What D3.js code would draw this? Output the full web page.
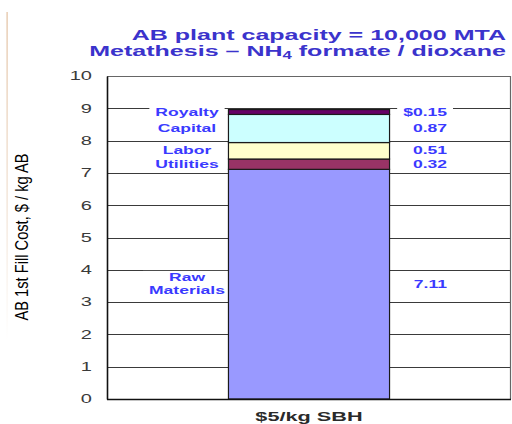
<!DOCTYPE html>
<html>
<head>
<meta charset="utf-8">
<script src="https://cdn.jsdelivr.net/npm/d3@7"></script>
<style>
  html, body { margin: 0; padding: 0; background: #fff; }
  svg { display: block; }
  text { font-family: "Liberation Sans", Arial, sans-serif; }
</style>
</head>
<body>
<svg id="chart" width="512" height="424"></svg>
<script>
// Cost build-up for one feedstock price case
const categories = ["$5/kg SBH"];
const components = ["Raw Materials", "Utilities", "Labor", "Capital", "Royalty"];
const costs = [7.11, 0.32, 0.51, 0.87, 0.15];
const valueLabels = ["7.11", "0.32", "0.51", "0.87", "$0.15"];
const componentLabels = [["Raw", "Materials"], ["Utilities"], ["Labor"], ["Capital"], ["Royalty"]];
const yTicks = [0, 1, 2, 3, 4, 5, 6, 7, 8, 9, 10];
const palette = ["#9999ff", "#993366", "#ffffcc", "#ccffff", "#660066"];

const SX = 1.67; // wide lettering used throughout the slide

const svg = d3.select("#chart");
const m = { left: 107, right: 511, top: 76, bottom: 399 };

const y = d3.scaleLinear().domain([0, 10]).range([m.bottom, m.top]);
const x = d3.scaleBand().domain(categories).range([m.left, m.right])
  .paddingInner(0.5).paddingOuter(0.377);

// faint slide edge line
const defs = svg.append("defs");
const grad = defs.append("linearGradient").attr("id", "edge")
  .attr("x1", 0).attr("y1", 0).attr("x2", 0).attr("y2", 1);
grad.append("stop").attr("offset", "0%").attr("stop-color", "#e2c0a0");
grad.append("stop").attr("offset", "60%").attr("stop-color", "#f1e2d4");
grad.append("stop").attr("offset", "100%").attr("stop-color", "#ffffff");
svg.append("rect").attr("x", 6.5).attr("y", 12).attr("width", 1.2).attr("height", 330)
  .attr("fill", "url(#edge)");

// title
const title = svg.append("text")
  .attr("transform", `translate(506,39.5) scale(${SX},1)`)
  .attr("text-anchor", "end").attr("font-weight", "bold").attr("font-size", 15)
  .attr("fill", "#3b33cc");
title.append("tspan").attr("x", 0).attr("y", 0).text("AB plant capacity = 10,000 MTA");
const t2 = svg.append("text")
  .attr("transform", `translate(506,55.5) scale(${SX},1)`)
  .attr("text-anchor", "end").attr("font-weight", "bold").attr("font-size", 15)
  .attr("fill", "#3b33cc");
t2.append("tspan").text("Metathesis \u2013 NH");
t2.append("tspan").attr("font-size", 10).attr("dy", 3).text("4");
t2.append("tspan").attr("dy", -3).text(" formate / dioxane");

// grid lines
svg.append("g").selectAll("line").data(yTicks.filter(d => d > 0)).join("line")
  .attr("x1", m.left).attr("x2", m.right)
  .attr("y1", d => Math.round(y(d)) + 0.5).attr("y2", d => Math.round(y(d)) + 0.5)
  .attr("stroke", d => d === 10 ? "#666" : "#3a3a3a").attr("stroke-width", 1.2);
// right border
svg.append("line").attr("x1", m.right - 0.5).attr("x2", m.right - 0.5)
  .attr("y1", y(10)).attr("y2", y(0)).attr("stroke", "#666").attr("stroke-width", 1.2);

// stack layout
const row = {};
components.forEach((c, i) => row[c] = costs[i]);
const series = d3.stack().keys(components)([row]);

// segment labels (left) and values (right), with white backing over the grid
function label(xPos, yMid, lines, anchor) {
  const g = svg.append("g").attr("transform", `translate(${xPos},${yMid})`);
  const bg = g.append("rect").attr("fill", "#fff");
  const t = g.append("text")
    .attr("transform", `scale(${SX},1)`)
    .attr("text-anchor", anchor).attr("font-weight", "bold").attr("font-size", 10.5)
    .attr("fill", "#3a3aff");
  const n = lines.length;
  lines.forEach((s, i) => {
    t.append("tspan").attr("x", 0)
      .attr("y", (i - (n - 1) / 2) * 13)
      .attr("dy", "0.35em").text(s);
  });
  const b = t.node().getBBox();
  bg.attr("x", b.x * SX - 6).attr("y", b.y - 1)
    .attr("width", b.width * SX + 12).attr("height", b.height + 2);
}

series.forEach((s, i) => {
  const mid = y((s[0][0] + s[0][1]) / 2);
  label(187, mid, componentLabels[i], "middle");
  label(447, mid, [valueLabels[i]], "end");
});

// stacked bar
svg.append("g").selectAll("rect").data(series).join("rect")
  .attr("x", x(categories[0]))
  .attr("width", x.bandwidth())
  .attr("y", d => y(d[0][1]))
  .attr("height", d => y(d[0][0]) - y(d[0][1]))
  .attr("fill", (d, i) => palette[i])
  .attr("stroke", "#1a1a1a").attr("stroke-width", 1.2);

// axes
const yAxis = svg.append("g").attr("transform", `translate(${m.left},0)`)
  .call(d3.axisLeft(y).tickValues(yTicks).tickSize(0).tickPadding(15));
yAxis.select(".domain").attr("stroke", "#111").attr("stroke-width", 1.6);
yAxis.selectAll("text")
  .attr("x", -15 / SX)
  .attr("transform", `scale(${SX},1)`)
  .attr("font-size", 12).attr("fill", "#3a3a3a")
  .attr("font-family", "\"Liberation Sans\", Arial, sans-serif");

const xAxis = svg.append("g").attr("transform", `translate(0,${m.bottom})`)
  .call(d3.axisBottom(x).tickSize(0).tickPadding(13));
xAxis.select(".domain").attr("stroke", "#111").attr("stroke-width", 1.6)
  .attr("d", `M${m.left},0.5H${m.right}`);
xAxis.selectAll("text")
  .attr("transform", `scale(${SX},1)`)
  .attr("font-size", 13).attr("font-weight", "bold").attr("fill", "#2a2a2a")
  .attr("font-family", "\"Liberation Sans\", Arial, sans-serif");
xAxis.selectAll(".tick").each(function () {
  const tx = +this.getAttribute("transform").match(/translate\(([^,]+)/)[1];
  d3.select(this).attr("transform", `translate(${tx},0)`);
});

// y axis title
svg.append("text")
  .attr("transform", `translate(28,237) rotate(-90)`)
  .attr("text-anchor", "middle").attr("font-size", 17.5).attr("fill", "#000")
  .attr("textLength", 167).attr("lengthAdjust", "spacingAndGlyphs")
  .text("AB 1st Fill Cost, $ / kg AB");
</script>
</body>
</html>
